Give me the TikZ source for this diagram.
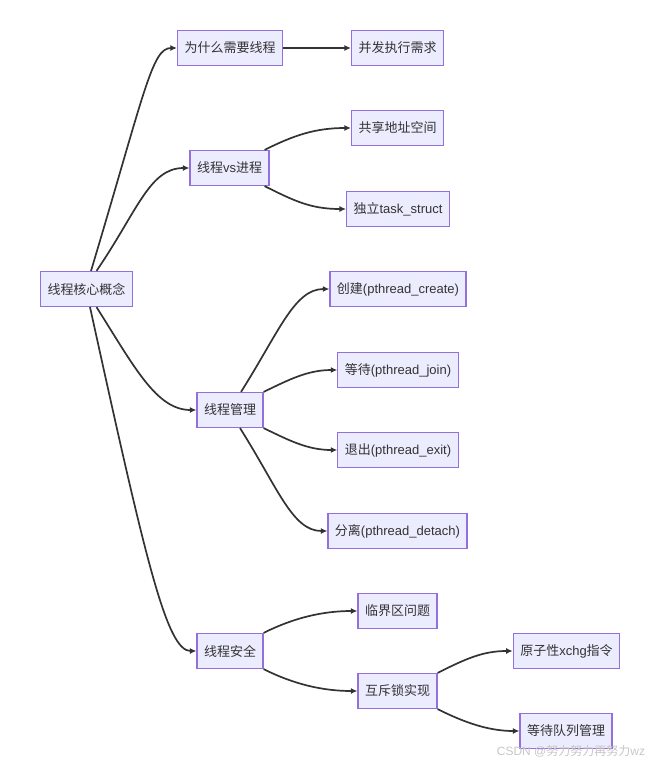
\documentclass[tikz,border=0pt]{standalone}
\usepackage{fontspec}
\setmainfont{Liberation Sans}
\newfontfamily\cjk{Noto Sans CJK SC}
\newcommand{\zh}[1]{{\cjk #1}}
\usetikzlibrary{arrows.meta,positioning}
\definecolor{nodefill}{HTML}{ECECFF}
\definecolor{nodeline}{HTML}{9370DB}
\definecolor{edgeline}{HTML}{333333}

\begin{document}
\begin{tikzpicture}[x=1pt, y=-1pt, >={Latex[length=6.5pt,width=6pt]},
        concept/.style={rectangle, draw=nodeline, fill=nodefill, line width=1.2pt, minimum height=35pt, inner xsep=7pt, text=edgeline, font=\fontsize{13}{15}\selectfont},
        link/.style={->, draw=edgeline, line width=1.7pt}]
        \useasboundingbox (0,0) rectangle (654,764);

        % Root
        \node[concept] (root) at (86.5,289) {\zh{线程核心概念}};

        % Why threads
        \node[concept] (why) at (230,48) {\zh{为什么需要线程}};
        \node[concept] (need) at (397.5,48) {\zh{并发执行需求}};

        % Thread vs process
        \node[concept] (vsproc) at (229.5,168) {\zh{线程}vs\zh{进程}};
        \node[concept] (share) at (397.5,128) {\zh{共享地址空间}};
        \node[concept] (taskst) at (398,209) {\zh{独立}task\_struct};

        % Thread management
        \node[concept] (mgmt) at (230,410) {\zh{线程管理}};
        \node[concept] (create) at (398,289) {\zh{创建}(pthread\_create)};
        \node[concept] (join) at (398,370) {\zh{等待}(pthread\_join)};
        \node[concept] (exit) at (398,450) {\zh{退出}(pthread\_exit)};
        \node[concept] (detach) at (397.5,531) {\zh{分离}(pthread\_detach)};

        % Thread safety
        \node[concept] (safety) at (230,651) {\zh{线程安全}};
        \node[concept] (critical) at (397.5,611) {\zh{临界区问题}};
        \node[concept] (mutex) at (397.5,691) {\zh{互斥锁实现}};
        \node[concept] (xchg) at (566.5,651) {\zh{原子性}xchg\zh{指令}};
        \node[concept] (waitq) at (566,731) {\zh{等待队列管理}};

        % Links
        \draw[link] ([xshift=4.5pt]root.north) .. controls +(54,-180) and +(-25,0) .. (why.west);
        \draw[link] ([xshift=10pt]root.north) .. controls +(41,-60) and +(-40,0) .. (vsproc.west);
        \draw[link] ([xshift=10pt]root.south) .. controls +(38,60) and +(-40,0) .. (mgmt.west);
        \draw[link] ([xshift=3.5pt]root.south) .. controls +(55,250) and +(-30,0) .. (safety.west);
        \draw[link] (why.east) -- (need.west);
        \draw[link] ([xshift=-5pt]vsproc.north east) .. controls +(30,-15) and +(-35,0) .. (share.west);
        \draw[link] ([xshift=-5pt]vsproc.south east) .. controls +(30,15) and +(-35,0) .. (taskst.west);
        \draw[link] ([xshift=11pt]mgmt.north) .. controls +(38,-60) and +(-35,0) .. (create.west);
        \draw[link] (mgmt.north east) .. controls +(25,-12) and +(-30,0) .. (join.west);
        \draw[link] (mgmt.south east) .. controls +(25,12) and +(-30,0) .. (exit.west);
        \draw[link] ([xshift=10pt]mgmt.south) .. controls +(38,60) and +(-35,0) .. (detach.west);
        \draw[link] (safety.north east) .. controls +(30,-15) and +(-35,0) .. (critical.west);
        \draw[link] (safety.south east) .. controls +(30,15) and +(-35,0) .. (mutex.west);
        \draw[link] (mutex.north east) .. controls +(28,-14) and +(-30,0) .. (xchg.west);
        \draw[link] (mutex.south east) .. controls +(28,14) and +(-30,0) .. (waitq.west);

        % Watermark
        \node[text=gray!45, font=\fontsize{12}{14}\selectfont] (mark) at (571,751) {CSDN @\zh{努力努力再努力}wz};
    \end{tikzpicture}
\end{document}
